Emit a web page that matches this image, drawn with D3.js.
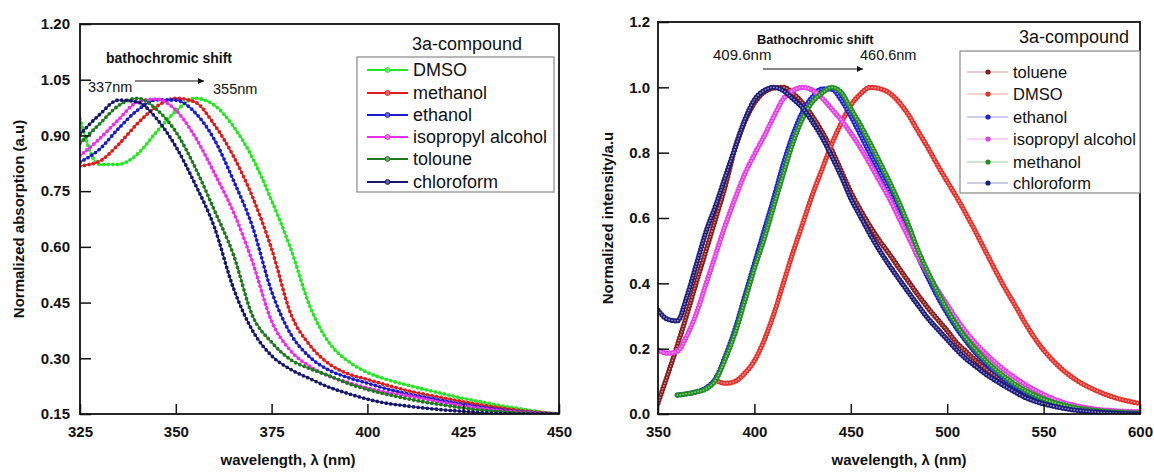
<!DOCTYPE html>
<html>
<head>
<meta charset="utf-8">
<script src="https://cdn.jsdelivr.net/npm/d3@7"></script>
<style>
  body { margin: 0; background: #fff; }
  text { font-family: "Liberation Sans", Arial, sans-serif; }
</style>
</head>
<body>
<svg id="chart" width="1154" height="472"></svg>
<script>
// ---- left panel: normalized absorption, read every 5 nm ----
var absWl = [325, 330, 335, 340, 345, 350, 355, 360, 365, 370, 375, 380, 385, 390, 395, 400, 405, 410, 415, 420, 425, 430, 435, 440, 445, 450]
var absDMSO = [0.945, 0.822, 0.822, 0.85, 0.91, 0.965, 1.0, 0.982, 0.925, 0.84, 0.725, 0.595, 0.44, 0.342, 0.292, 0.262, 0.243, 0.229, 0.216, 0.204, 0.192, 0.182, 0.172, 0.164, 0.156, 0.15]
var absMethanol = [0.818, 0.83, 0.875, 0.932, 0.978, 1.0, 0.99, 0.93, 0.845, 0.735, 0.595, 0.42, 0.335, 0.285, 0.258, 0.243, 0.228, 0.214, 0.203, 0.193, 0.183, 0.174, 0.166, 0.159, 0.154, 0.15]
var absEthanol = [0.828, 0.862, 0.918, 0.968, 0.996, 0.995, 0.962, 0.89, 0.78, 0.655, 0.48, 0.365, 0.303, 0.268, 0.248, 0.233, 0.218, 0.205, 0.195, 0.185, 0.176, 0.168, 0.161, 0.156, 0.152, 0.15]
var absIsopropyl = [0.845, 0.89, 0.942, 0.99, 0.998, 0.968, 0.897, 0.8, 0.695, 0.56, 0.4, 0.32, 0.278, 0.252, 0.235, 0.22, 0.208, 0.2, 0.19, 0.18, 0.172, 0.165, 0.159, 0.155, 0.152, 0.15]
var absToluone = [0.879, 0.93, 0.98, 1.0, 0.97, 0.91, 0.815, 0.7, 0.58, 0.415, 0.343, 0.296, 0.272, 0.253, 0.232, 0.216, 0.203, 0.192, 0.182, 0.174, 0.166, 0.16, 0.156, 0.153, 0.151, 0.15]
var absChloroform = [0.903, 0.955, 0.995, 0.99, 0.945, 0.87, 0.77, 0.655, 0.49, 0.375, 0.307, 0.27, 0.245, 0.222, 0.205, 0.19, 0.179, 0.172, 0.166, 0.161, 0.157, 0.153, 0.151, 0.15, 0.15, 0.15]

// ---- right panel: normalized emission intensity, read every 5 nm ----
var flWl = [350, 355, 360, 365, 370, 375, 380, 385, 390, 395, 400, 405, 410, 415, 420, 425, 430, 435, 440, 445, 450, 455, 460, 465, 470, 475, 480, 485, 490, 495, 500, 505, 510, 515, 520, 525, 530, 535, 540, 545, 550, 555, 560, 565, 570, 575, 580, 585, 590, 595, 600]
var flToluene = [0.034, 0.12, 0.21, 0.305, 0.405, 0.502, 0.6, 0.7, 0.815, 0.895, 0.952, 0.985, 0.998, 1.0, 0.982, 0.952, 0.912, 0.865, 0.81, 0.745, 0.68, 0.625, 0.575, 0.53, 0.49, 0.447, 0.405, 0.364, 0.325, 0.29, 0.255, 0.218, 0.19, 0.163, 0.138, 0.117, 0.098, 0.08, 0.063, 0.05, 0.039, 0.03, 0.023, 0.017, 0.013, 0.01, 0.008, 0.006, 0.005, 0.004, 0.003]
var flDMSO = [null, null, null, null, null, null, 0.103, 0.094, 0.1, 0.125, 0.163, 0.225, 0.305, 0.4, 0.495, 0.582, 0.67, 0.748, 0.825, 0.89, 0.945, 0.98, 1.0, 0.996, 0.983, 0.955, 0.915, 0.865, 0.815, 0.762, 0.712, 0.663, 0.61, 0.555, 0.497, 0.44, 0.385, 0.335, 0.283, 0.236, 0.196, 0.163, 0.135, 0.112, 0.093, 0.078, 0.065, 0.054, 0.045, 0.038, 0.032]
var flEthanol = [null, null, 0.058, 0.062, 0.068, 0.08, 0.11, 0.178, 0.26, 0.36, 0.46, 0.56, 0.66, 0.765, 0.855, 0.925, 0.97, 0.995, 0.995, 0.962, 0.912, 0.855, 0.797, 0.74, 0.68, 0.615, 0.548, 0.48, 0.418, 0.36, 0.308, 0.262, 0.222, 0.186, 0.155, 0.128, 0.105, 0.085, 0.068, 0.054, 0.042, 0.032, 0.024, 0.018, 0.013, 0.01, 0.007, 0.005, 0.004, 0.003, 0.002]
var flIsopropyl = [0.196, 0.186, 0.192, 0.24, 0.31, 0.4, 0.49, 0.58, 0.66, 0.735, 0.795, 0.85, 0.91, 0.965, 0.99, 1.0, 0.992, 0.968, 0.935, 0.9, 0.86, 0.815, 0.765, 0.712, 0.66, 0.6, 0.54, 0.48, 0.43, 0.38, 0.335, 0.29, 0.25, 0.215, 0.185, 0.158, 0.133, 0.112, 0.092, 0.075, 0.06, 0.047, 0.036, 0.028, 0.022, 0.017, 0.013, 0.011, 0.009, 0.008, 0.007]
var flMethanol = [null, null, 0.058, 0.062, 0.068, 0.077, 0.105, 0.17, 0.248, 0.345, 0.445, 0.535, 0.635, 0.735, 0.83, 0.905, 0.955, 0.982, 1.0, 0.985, 0.935, 0.885, 0.83, 0.772, 0.712, 0.648, 0.578, 0.5, 0.435, 0.375, 0.32, 0.272, 0.23, 0.196, 0.164, 0.137, 0.113, 0.092, 0.074, 0.059, 0.046, 0.036, 0.028, 0.021, 0.016, 0.012, 0.009, 0.007, 0.005, 0.004, 0.003]
var flChloroform = [0.318, 0.29, 0.285, 0.36, 0.46, 0.56, 0.64, 0.728, 0.815, 0.9, 0.962, 0.99, 1.0, 0.99, 0.965, 0.937, 0.895, 0.848, 0.79, 0.728, 0.66, 0.605, 0.55, 0.5, 0.455, 0.413, 0.372, 0.332, 0.293, 0.26, 0.228, 0.196, 0.168, 0.145, 0.122, 0.103, 0.085, 0.068, 0.052, 0.04, 0.031, 0.024, 0.018, 0.013, 0.01, 0.007, 0.005, 0.003, 0.002, 0.001, 0.0]

// tick values
var absXMajor = [325, 350, 375, 400, 425, 450]
var absXMinor = [337.5, 362.5, 387.5, 412.5, 437.5]
var absYMajor = [0.15, 0.30, 0.45, 0.60, 0.75, 0.90, 1.05, 1.20]
var absYMinor = [0.225, 0.375, 0.525, 0.675, 0.825, 0.975, 1.125]
var flXMajor = [350, 400, 450, 500, 550, 600]
var flXMinor = [375, 425, 475, 525, 575]
var flYMajor = [0.0, 0.2, 0.4, 0.6, 0.8, 1.0, 1.2]
var flYMinor = [0.1, 0.3, 0.5, 0.7, 0.9, 1.1]

var svg = d3.select('#chart')

svg.append('defs').append('marker')
    .attr('id', 'arrowhead')
    .attr('viewBox', '0 0 10 10')
    .attr('refX', 10).attr('refY', 5)
    .attr('markerUnits', 'userSpaceOnUse')
    .attr('markerWidth', 9).attr('markerHeight', 6)
    .attr('orient', 'auto')
    .append('path').attr('d', 'M0,0L10,5L0,10Z').attr('fill', '#111')

var leftPanel = {
    id: 'abs', left: 80, right: 559, top: 24, bottom: 414,
    xDomain: [325, 450], yDomain: [0.15, 1.2],
    xMajor: absXMajor, xMinor: absXMinor, yMajor: absYMajor, yMinor: absYMinor,
    yFmt: d3.format('.2f'), yPad: 10, wl: absWl, markers: 'small',
    series: [
        { name: 'DMSO', color: '#22e822', values: absDMSO },
        { name: 'methanol', color: '#e01b1b', values: absMethanol },
        { name: 'ethanol', color: '#1a1ad0', values: absEthanol },
        { name: 'isopropyl alcohol', color: '#ee2cee', values: absIsopropyl },
        { name: 'toloune', color: '#1e7a1e', values: absToluone },
        { name: 'chloroform', color: '#16166e', values: absChloroform }
    ]
}

var rightPanel = {
    id: 'fl', left: 658, right: 1140, top: 22, bottom: 414,
    xDomain: [350, 600], yDomain: [0, 1.2],
    xMajor: flXMajor, xMinor: flXMinor, yMajor: flYMajor, yMinor: flYMinor,
    yFmt: d3.format('.1f'), yPad: 8, wl: flWl, markers: 'rings',
    series: [
        { name: 'toluene', color: '#8b1a1a', values: flToluene },
        { name: 'DMSO', color: '#e8302a', values: flDMSO },
        { name: 'ethanol', color: '#1f1fd6', values: flEthanol },
        { name: 'isopropyl alcohol', color: '#e83ee8', values: flIsopropyl },
        { name: 'methanol', color: '#1f8f1f', values: flMethanol },
        { name: 'chloroform', color: '#1c1c7a', values: flChloroform }
    ]
}

function drawPanel(p) {
    var x = d3.scaleLinear().domain(p.xDomain).range([p.left, p.right])
    var y = d3.scaleLinear().domain(p.yDomain).range([p.bottom, p.top])

    svg.append('clipPath').attr('id', 'clip-' + p.id)
        .append('rect')
        .attr('x', p.left).attr('y', p.top)
        .attr('width', p.right - p.left).attr('height', p.bottom - p.top)

    // curves
    var line = d3.line()
        .defined(function (d) { return d[1] != null })
        .x(function (d) { return x(d[0]) })
        .y(function (d) { return y(d[1]) })
        .curve(d3.curveMonotoneX)

    var plot = svg.append('g').attr('clip-path', 'url(#clip-' + p.id + ')')
    p.series.forEach(function (s) {
        var pts = p.wl.map(function (w, i) { return [w, s.values[i]] })
        var d = line(pts)
        if (p.markers === 'small') {
            plot.append('path').attr('d', d).attr('fill', 'none')
                .attr('stroke', s.color).attr('stroke-width', 1.4)
            plot.append('path').attr('d', d).attr('fill', 'none')
                .attr('stroke', s.color).attr('stroke-width', 3.8)
                .attr('stroke-linecap', 'round').attr('stroke-dasharray', '0 4.6')
        } else {
            plot.append('path').attr('d', d).attr('fill', 'none')
                .attr('stroke', s.color).attr('stroke-width', 5.2)
                .attr('stroke-linecap', 'round').attr('stroke-dasharray', '0 3')
            plot.append('path').attr('d', d).attr('fill', 'none')
                .attr('stroke', d3.interpolateRgb(s.color, '#fff')(0.5)).attr('stroke-width', 1.8)
                .attr('stroke-linecap', 'round').attr('stroke-dasharray', '0 3')
        }
    })

    // axes, ticks pointing inward
    var gx = svg.append('g').attr('transform', 'translate(0,' + p.bottom + ')')
    gx.call(d3.axisBottom(x).tickValues(p.xMinor).tickSize(-5).tickSizeOuter(0).tickFormat(''))
    gx.call(d3.axisBottom(x).tickValues(p.xMajor).tickSize(-10).tickSizeOuter(0).tickPadding(12).tickFormat(d3.format('d')))
    var gy = svg.append('g').attr('transform', 'translate(' + p.left + ',0)')
    gy.call(d3.axisLeft(y).tickValues(p.yMinor).tickSize(-6).tickSizeOuter(0).tickFormat(''))
    gy.call(d3.axisLeft(y).tickValues(p.yMajor).tickSize(-11).tickSizeOuter(0).tickPadding(p.yPad).tickFormat(p.yFmt))

    svg.selectAll('.domain').remove()
    svg.selectAll('.tick line').attr('stroke', '#111').attr('stroke-width', 1.5)
    svg.selectAll('.tick text')
        .style('font-family', '"Liberation Sans", Arial, sans-serif')
        .style('font-size', '15px').style('font-weight', 'bold').attr('fill', '#111')

    svg.append('rect')
        .attr('x', p.left).attr('y', p.top)
        .attr('width', p.right - p.left).attr('height', p.bottom - p.top)
        .attr('fill', 'none').attr('stroke', '#111').attr('stroke-width', 1.8)

    return { x: x, y: y }
}

function drawLegend(p, box, rows, titleX, titleY, fontSize, style) {
    svg.append('text').attr('x', titleX).attr('y', titleY)
        .style('font-size', '18px').attr('fill', '#111').text('3a-compound')
    svg.append('rect')
        .attr('x', box.x).attr('y', box.y).attr('width', box.w).attr('height', box.h)
        .attr('fill', '#fff').attr('stroke', '#888').attr('stroke-width', 1.2)
    p.series.forEach(function (s, i) {
        var cy = rows[i]
        var g = svg.append('g')
        if (style === 'small') {
            g.append('line').attr('x1', box.x + 10).attr('x2', box.x + 51)
                .attr('y1', cy).attr('y2', cy).attr('stroke', s.color).attr('stroke-width', 2.2)
            g.append('circle').attr('cx', box.x + 30.5).attr('cy', cy).attr('r', 2.4)
                .attr('fill', d3.interpolateRgb(s.color, '#fff')(0.35)).attr('stroke', s.color).attr('stroke-width', 1)
        } else {
            g.append('line').attr('x1', box.x + 7).attr('x2', box.x + 48)
                .attr('y1', cy).attr('y2', cy).attr('stroke', s.color).attr('stroke-width', 1.2)
                .attr('stroke-opacity', 0.45)
            g.append('circle').attr('cx', box.x + 28).attr('cy', cy).attr('r', 2.6)
                .attr('fill', s.color)
        }
        g.append('text').attr('x', box.x + 56 - (style === 'small' ? 0 : 3)).attr('y', cy)
            .attr('dy', '0.36em').style('font-size', fontSize + 'px').attr('fill', '#111')
            .text(s.name)
    })
}

drawPanel(leftPanel)
drawPanel(rightPanel)

drawLegend(leftPanel, { x: 357, y: 57, w: 197, h: 135 }, [70, 93, 115, 137, 159, 182], 412, 49.5, 18, 'small')
drawLegend(rightPanel, { x: 960, y: 51, w: 180, h: 142 }, [72, 94, 117, 139, 162, 183], 1019, 42.5, 16.5, 'dots')

// annotations
svg.append('text').attr('x', 106).attr('y', 63)
    .style('font-size', '14px').style('font-weight', 'bold').attr('fill', '#111').text('bathochromic shift')
svg.append('text').attr('x', 88).attr('y', 92).style('font-size', '14.5px').attr('fill', '#111').text('337nm')
svg.append('text').attr('x', 213).attr('y', 94).style('font-size', '14.5px').attr('fill', '#111').text('355nm')
svg.append('line').attr('x1', 135).attr('x2', 204).attr('y1', 81).attr('y2', 81)
    .attr('stroke', '#111').attr('stroke-width', 1).attr('marker-end', 'url(#arrowhead)')

svg.append('text').attr('x', 757).attr('y', 43.5)
    .style('font-size', '12.8px').style('font-weight', 'bold').attr('fill', '#111').text('Bathochromic shift')
svg.append('text').attr('x', 713).attr('y', 60).style('font-size', '15px').attr('fill', '#111').text('409.6nm')
svg.append('text').attr('x', 860).attr('y', 60).style('font-size', '14.5px').attr('fill', '#111').text('460.6nm')
svg.append('line').attr('x1', 763).attr('x2', 863).attr('y1', 69).attr('y2', 69)
    .attr('stroke', '#111').attr('stroke-width', 1).attr('marker-end', 'url(#arrowhead)')

// axis titles
svg.append('text').attr('x', 288).attr('y', 465).attr('text-anchor', 'middle')
    .style('font-size', '15px').style('font-weight', 'bold').attr('fill', '#111').text('wavelength, λ (nm)')
svg.append('text').attr('x', 899).attr('y', 465).attr('text-anchor', 'middle')
    .style('font-size', '15px').style('font-weight', 'bold').attr('fill', '#111').text('wavelength, λ (nm)')
svg.append('text').attr('transform', 'translate(24,219) rotate(-90)').attr('text-anchor', 'middle')
    .style('font-size', '15px').style('font-weight', 'bold').attr('fill', '#111').text('Normalized absorption (a.u)')
svg.append('text').attr('transform', 'translate(613,218) rotate(-90)').attr('text-anchor', 'middle')
    .style('font-size', '15px').style('font-weight', 'bold').attr('fill', '#111').text('Normalized intensity/a.u')
</script>
</body>
</html>
